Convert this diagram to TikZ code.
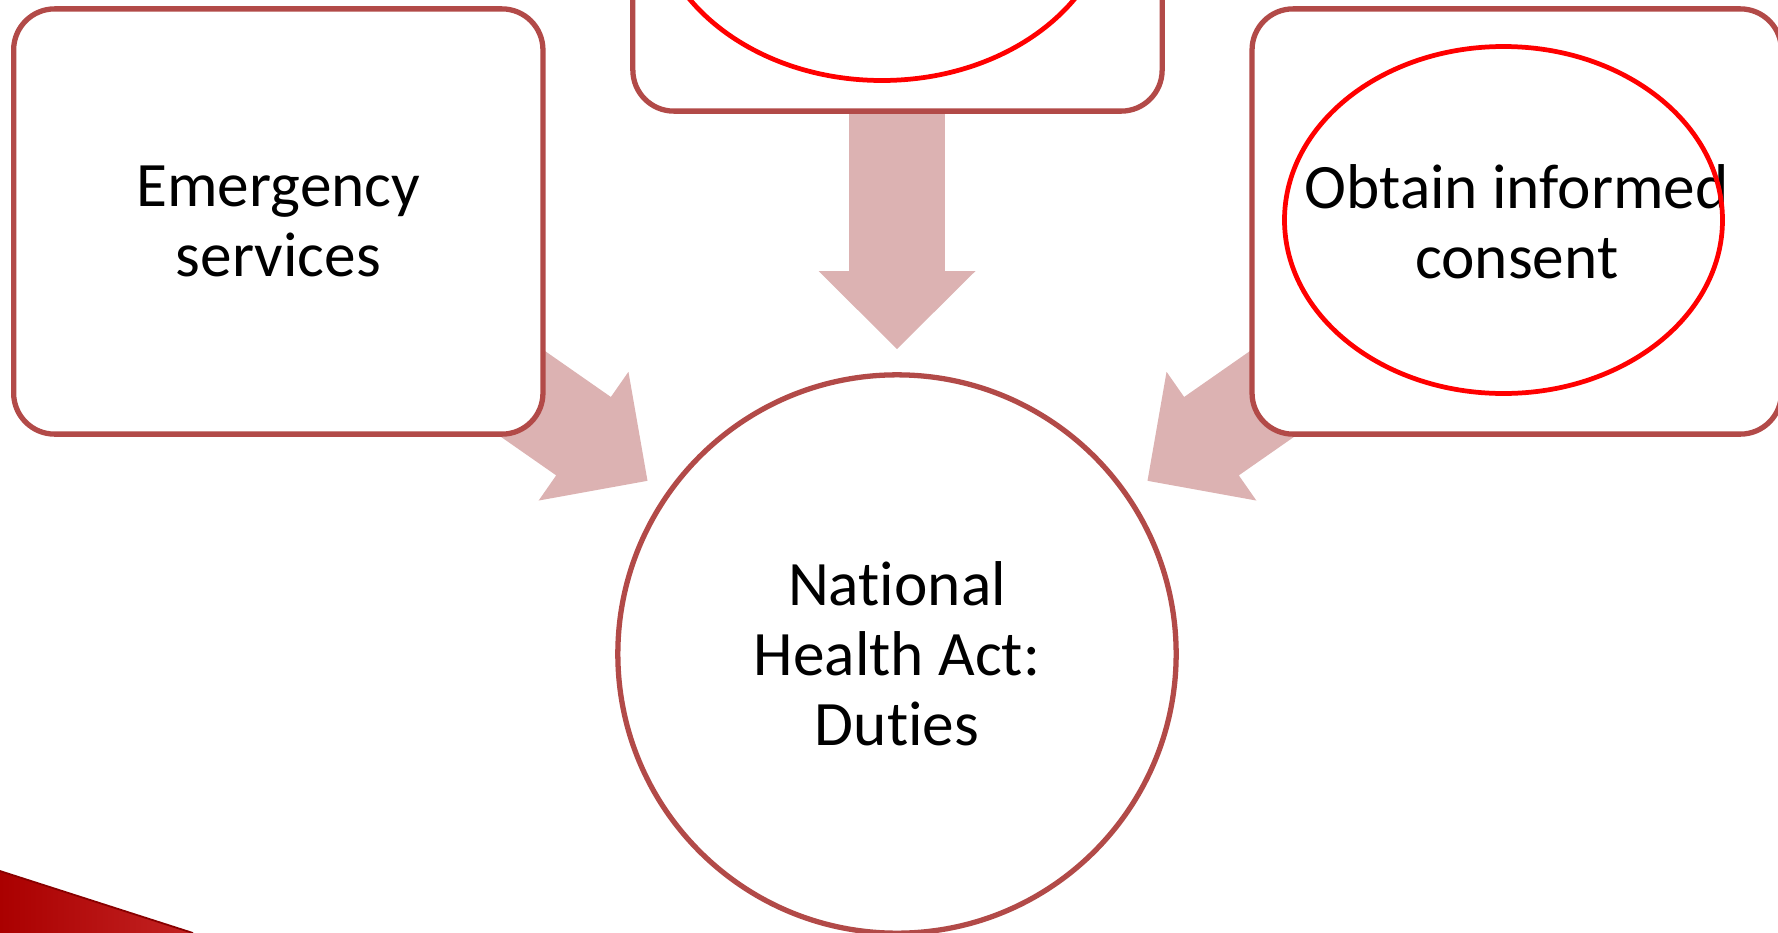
\documentclass[tikz,border=0pt]{standalone}
\usepackage{fontspec}
\setmainfont[Ligatures=NoCommon]{Carlito}

\definecolor{boxred}{RGB}{178,74,72}
\definecolor{arrowpink}{RGB}{220,178,178}
\definecolor{markred}{RGB}{255,0,0}
\definecolor{cornerdark}{RGB}{170,0,0}
\definecolor{cornerlight}{RGB}{195,35,35}

\begin{document}
\begin{tikzpicture}[x=0.01cm, y=-0.01cm,
    box/.style={draw=boxred, line width=1.5pt, fill=white,
        rounded corners=0.41cm, minimum width=5.29cm, minimum height=4.25cm,
        align=center, font=\fontsize{18}{19.9}\selectfont},
    hub/.style={circle, draw=boxred, line width=1.5pt, fill=white,
        minimum size=5.58cm, align=center, font=\fontsize{18}{19.9}\selectfont},
    blockarrow/.style={fill=arrowpink},
    redmark/.style={draw=markred, line width=1.35pt}]

    \useasboundingbox (0,0) rectangle (1778,933);
    \clip (0,0) rectangle (1778,933);

    % -- Blockpfeile (hinter den Kaesten) --
    \fill[blockarrow, shift={(897,349)}, rotate=-90]
        (0,0) -- (-78,-78.5) -- (-78,-47.8) -- (-280,-47.8)
        -- (-280,47.8) -- (-78,47.8) -- (-78,78.5) -- cycle;
    \fill[blockarrow, shift={(647.5,480.8)}, rotate=-34.9]
        (0,0) -- (-78,-78.5) -- (-78,-47.8) -- (-280,-47.8)
        -- (-280,47.8) -- (-78,47.8) -- (-78,78.5) -- cycle;
    \fill[blockarrow, shift={(1147.5,480.8)}, rotate=-145.1]
        (0,0) -- (-78,-78.5) -- (-78,-47.8) -- (-280,-47.8)
        -- (-280,47.8) -- (-78,47.8) -- (-78,78.5) -- cycle;

    % -- Kaesten --
    \node[box] (emerg) at (278.3,221.5) {Emergency\\services};
    \node[box] (topbox) at (897.5,-101.5) {};
    \node[box] (consent) at (1516.7,221.5) {Obtain informed\\consent};

    % -- Kreis in der Mitte --
    \node[hub] (duties) at (897,654) {National\\Health Act:\\Duties};

    % -- rote Markierungen --
    \draw[redmark] (882,-99.5) ellipse [x radius=230, y radius=180];
    \draw[redmark] (1503.5,220) ellipse [x radius=219, y radius=173.5];

    % -- Ecke unten links --
    \shade[left color=cornerdark, right color=cornerlight]
        (0,871) -- (193,933) -- (0,933) -- cycle;
    \draw[cornerdark!80!black, line width=0.5pt] (0,871) -- (193,933);
\end{tikzpicture}
\end{document}
